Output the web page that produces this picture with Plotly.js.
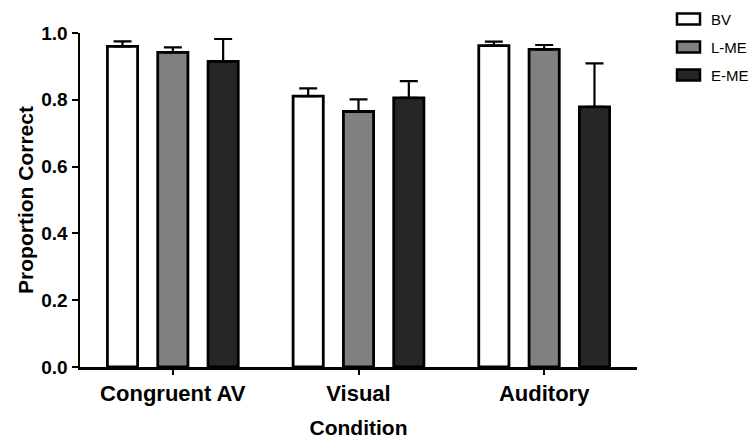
<!DOCTYPE html>
<html>
<head>
<meta charset="utf-8">
<script src="https://cdn.plot.ly/plotly-3.0.1.min.js"></script>
<style>
  html, body { margin: 0; padding: 0; background: #fff; }
  #chart { width: 748px; height: 439px; }
</style>
</head>
<body>
<div id="chart"></div>
<script>
const categories = ['Congruent AV', 'Visual', 'Auditory'];
const seriesNames = ['BV', 'L-ME', 'E-ME'];
const bvValues = [0.960, 0.811, 0.962];
const bvErr = [0.015, 0.023, 0.012];
const lmeValues = [0.942, 0.765, 0.951];
const lmeErr = [0.015, 0.036, 0.013];
const emeValues = [0.915, 0.806, 0.779];
const emeErr = [0.067, 0.050, 0.130];
const yTickVals = [0, 0.2, 0.4, 0.6, 0.8, 1.0];
const yTickText = ['0.0', '0.2', '0.4', '0.6', '0.8', '1.0'];

const fills = ['#ffffff', '#808080', '#262626'];
const values = [bvValues, lmeValues, emeValues];
const errs = [bvErr, lmeErr, emeErr];

const FONT = 'Liberation Sans, Arial, Helvetica, sans-serif';
const W = 748, H = 439;
const M = { l: 80, r: 111, t: 33, b: 72 };
const PW = W - M.l - M.r, PH = H - M.t - M.b;
const px2x = px => (px - M.l) / PW;
const py2y = py => (H - M.b - py) / PH;

const traces = seriesNames.map((name, i) => ({
  type: 'bar',
  name: name,
  x: categories,
  y: values[i],
  marker: { color: fills[i], line: { color: '#000', width: 2.8 } },
  error_y: {
    type: 'data',
    symmetric: false,
    array: errs[i],
    arrayminus: errs[i].map(() => 0),
    color: '#000',
    thickness: 2.2,
    width: 9
  },
  hoverinfo: 'x+y+name'
}));

// Legend (drawn as a key at the top right)
const legendRowCenters = [19, 47, 75];
const shapes = [];
const annotations = [];
seriesNames.forEach((name, i) => {
  const cy = legendRowCenters[i];
  shapes.push({
    type: 'rect', xref: 'paper', yref: 'paper',
    x0: px2x(677), x1: px2x(700),
    y0: py2y(cy + 5.5), y1: py2y(cy - 5.5),
    fillcolor: fills[i], line: { color: '#000', width: 2.5 }
  });
  annotations.push({
    xref: 'paper', yref: 'paper',
    x: px2x(709), y: py2y(cy),
    xanchor: 'left', yanchor: 'middle',
    text: name, showarrow: false,
    font: { family: FONT, size: 15, color: '#000' }
  });
});

const layout = {
  width: W,
  height: H,
  margin: { l: M.l, r: M.r, t: M.t, b: M.b, pad: 0 },
  paper_bgcolor: '#fff',
  plot_bgcolor: '#fff',
  barmode: 'group',
  bargap: 0.187,
  bargroupgap: 0.40,
  font: { family: FONT, color: '#000' },
  showlegend: false,
  shapes: shapes,
  annotations: annotations,
  xaxis: {
    type: 'category',
    range: [-0.5, 2.5],
    showline: true,
    linecolor: '#000',
    linewidth: 2.5,
    ticks: 'outside',
    ticklen: 5,
    tickwidth: 2,
    tickcolor: '#000',
    showgrid: false,
    zeroline: false,
    tickfont: { family: FONT, size: 22, weight: 700, color: '#000' },
    title: { text: 'Condition', font: { family: FONT, size: 21, weight: 700, color: '#000' }, standoff: 18 }
  },
  yaxis: {
    range: [0, 1.0],
    tickvals: yTickVals,
    ticktext: yTickText,
    showline: true,
    linecolor: '#000',
    linewidth: 2.5,
    ticks: 'outside',
    ticklen: 6,
    tickwidth: 2,
    tickcolor: '#000',
    showgrid: false,
    zeroline: false,
    tickfont: { family: FONT, size: 19, weight: 700, color: '#000' },
    title: { text: 'Proportion Correct', font: { family: FONT, size: 21, weight: 700, color: '#000' }, standoff: 2 }
  }
};

Plotly.newPlot('chart', traces, layout, { staticPlot: true, displayModeBar: false });
</script>
</body>
</html>
